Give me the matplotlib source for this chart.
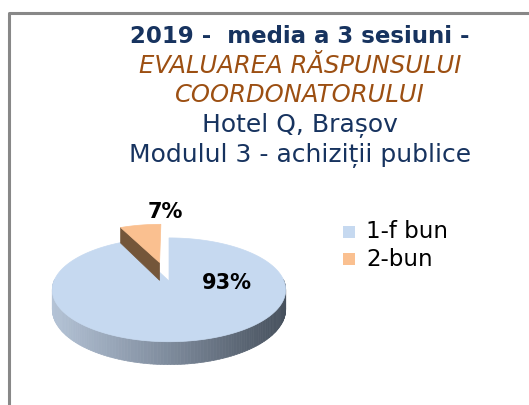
import numpy as np
import matplotlib
matplotlib.use('Agg')
import matplotlib.pyplot as plt
from matplotlib.patches import Polygon, Rectangle
from matplotlib.collections import PolyCollection
from matplotlib.colors import LinearSegmentedColormap

plt.rcParams['font.family'] = ['DejaVu Sans']

# data
labels = ['1-f bun', '2-bun']
values = [93, 7]
pct_text = ['93%', '7%']
top_colors = ['#C6D9F0', '#FAC090']
title_lines = ['2019 -  media a 3 sesiuni -', 'EVALUAREA RĂSPUNSULUI', 'COORDONATORULUI',
               'Hotel Q, Brașov', 'Modulul 3 - achiziții publice']

navy = '#17335F'
brown = '#9C4F12'

fig = plt.figure(figsize=(5.29, 4.05), dpi=100)
ax = fig.add_axes([0, 0, 1, 1])
ax.set_xlim(0, 529)
ax.set_ylim(405, 0)
ax.axis('off')

# chart area border (continues past right / bottom edge)
ax.plot([9, 9, 540], [420, 13, 13], color='#888888', lw=2.2, solid_capstyle='butt')

# title
title_y = [43, 73, 102, 132, 162]
title_style = [dict(weight='bold', size=16.5, color=navy),
               dict(style='italic', size=17.5, color=brown),
               dict(style='italic', size=17.5, color=brown),
               dict(size=18, color=navy),
               dict(size=18, color=navy)]
for txt, y, st in zip(title_lines, title_y, title_style):
    ax.text(300, y, txt, ha='center', va='baseline', **st)

# 3d pie with a little perspective
cx, cy = 169, 281
A, B = 115, 50.4
persp = 0.17
depth = 19
explode = [0, 0.4]


def proj(xc, uc):
    s = 1.0 / (1 - persp * uc)
    return cx + A * xc * s, cy + B * uc * s, s


fracs = np.array(values, dtype=float) / sum(values)
bounds = np.concatenate([[0], np.cumsum(fracs)]) * 360

side_cmap = LinearSegmentedColormap.from_list('side', ['#B4C3D6', '#7E8B9C', '#46505C'])

for i in range(len(values)):
    a0, a1 = np.radians(bounds[i]), np.radians(bounds[i + 1])
    am = (a0 + a1) / 2
    ox, ou = explode[i] * np.sin(am), -explode[i] * np.cos(am)
    phis = np.linspace(a0, a1, 240)
    pts = [proj(ox + np.sin(p), ou - np.cos(p)) for p in phis]
    apx, apy, aps = proj(ox, ou)

    if i == 0:
        # side wall with shading (front part only)
        quads, cols = [], []
        for k in range(len(phis) - 1):
            if -np.cos((phis[k] + phis[k + 1]) / 2) < -0.02:
                continue
            (x1, y1, s1), (x2, y2, s2) = pts[k], pts[k + 1]
            quads.append([(x1, y1), (x2, y2), (x2, y2 + depth * s2), (x1, y1 + depth * s1)])
            cols.append(side_cmap(np.clip(((x1 + x2) / 2 - (cx - A * 1.02)) / (2 * A * 1.02), 0, 1)))
        ax.add_collection(PolyCollection(quads, facecolors=cols, edgecolors=cols, lw=0.5))
    else:
        # visible cut face of the exploded slice
        x0, y0, s0 = pts[0]
        face = [(apx, apy), (x0, y0), (x0, y0 + depth * s0), (apx, apy + depth * aps)]
        ax.add_patch(Polygon(face, closed=True, fc='#74563A', ec='#74563A', lw=0.5))

    top = [(apx, apy)] + [(x, y) for x, y, _ in pts]
    ax.add_patch(Polygon(top, closed=True, fc=top_colors[i], ec=top_colors[i], lw=0.5))

# data labels
ax.text(cx + A * 0.5, cy + 2, pct_text[0], ha='center', va='center', size=15, weight='bold', color='black')
ax.text(165, 212, pct_text[1], ha='center', va='center', size=15, weight='bold', color='black')

# legend
for i, lab in enumerate(labels):
    y = 232 + i * 27
    ax.add_patch(Rectangle((343, y - 6), 12, 12, fc=top_colors[i], ec='none'))
    ax.text(366, y, lab, ha='left', va='center', size=16.5, color='black')

plt.savefig('out.png', dpi=100)
